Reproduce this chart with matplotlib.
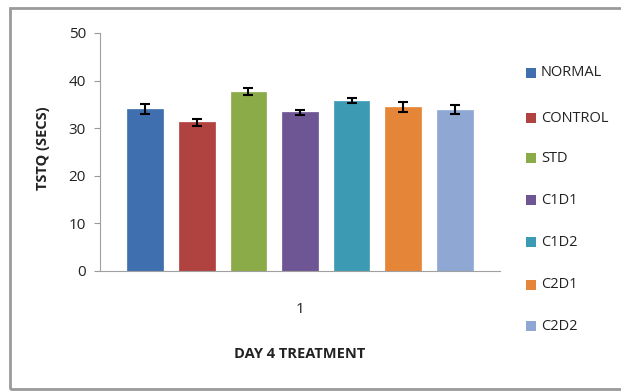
import matplotlib.pyplot as plt
from matplotlib.patches import Rectangle

groups = ["NORMAL", "CONTROL", "STD", "C1D1", "C1D2", "C2D1", "C2D2"]
means = [34.0, 31.2, 37.7, 33.3, 35.8, 34.4, 33.9]
errors = [1.0, 0.8, 0.8, 0.5, 0.5, 1.0, 1.0]
colors = ["#3f6fae", "#b04340", "#8aab48", "#6e5594", "#3d9ab3", "#e58538", "#8ea8d3"]
category = 1
ytick_values = [0, 10, 20, 30, 40, 50]

plt.rcParams["font.family"] = ["Open Sans", "DejaVu Sans"]

fig = plt.figure(figsize=(6.21, 3.91), dpi=100)
ax = fig.add_axes([100 / 621, 1 - 271 / 391, 400 / 621, 238 / 391])

# outer frame of the pasted chart (right/bottom edges run off the image)
fig.patches.append(Rectangle((10 / 621, 2 / 391), 1.0, 1 - 10 / 391,
                             transform=fig.transFigure, fill=False,
                             edgecolor="#9a9a9a", linewidth=2.0))

spacing = 0.129
width = 0.089
for i, (name, m, e, c) in enumerate(zip(groups, means, errors, colors)):
    x = category + (i - 3) * spacing
    ax.bar(x, m, width=width, color=c, label=name, edgecolor=c, linewidth=0.5)
    ax.errorbar(x, m, yerr=e, fmt="none", ecolor="black", elinewidth=1.5,
                capsize=3.5, capthick=1.5)

ax.set_xlim(0.5, 1.5)
ax.set_ylim(0, 50)
ax.set_yticks(ytick_values)
ax.set_xticks([category])
ax.set_xticklabels([str(category)])
ax.tick_params(axis="y", direction="out", length=4, color="#999999", labelsize=11,
               labelcolor="#222222", pad=6)
ax.tick_params(axis="x", length=0, labelsize=11, labelcolor="#222222", pad=22)

for side in ["top", "right"]:
    ax.spines[side].set_visible(False)
ax.spines["left"].set_color("#a0a0a0")
ax.spines["bottom"].set_color("#a0a0a0")

fig.text(300 / 621, 1 - 354 / 391, "DAY 4 TREATMENT", ha="center", va="center",
         fontsize=10.5, fontweight="bold", color="#222222")
fig.text(43 / 621, 1 - 148 / 391, "TSTQ (SECS)", ha="center", va="center",
         rotation=90, fontsize=10.5, fontweight="bold", color="#222222")

# legend entries placed to match the original spacing
legend_y = [73, 118, 158, 200, 242, 285, 326]
for name, c, yy in zip(groups, colors, legend_y):
    fig.patches.append(Rectangle((526 / 621, 1 - (yy + 5) / 391), 10 / 621, 10 / 391,
                                 transform=fig.transFigure, facecolor=c, edgecolor="none"))
    fig.text(541 / 621, 1 - yy / 391, name, ha="left", va="center",
             fontsize=10.5, color="#222222")

fig.savefig("out.png", dpi=100)
